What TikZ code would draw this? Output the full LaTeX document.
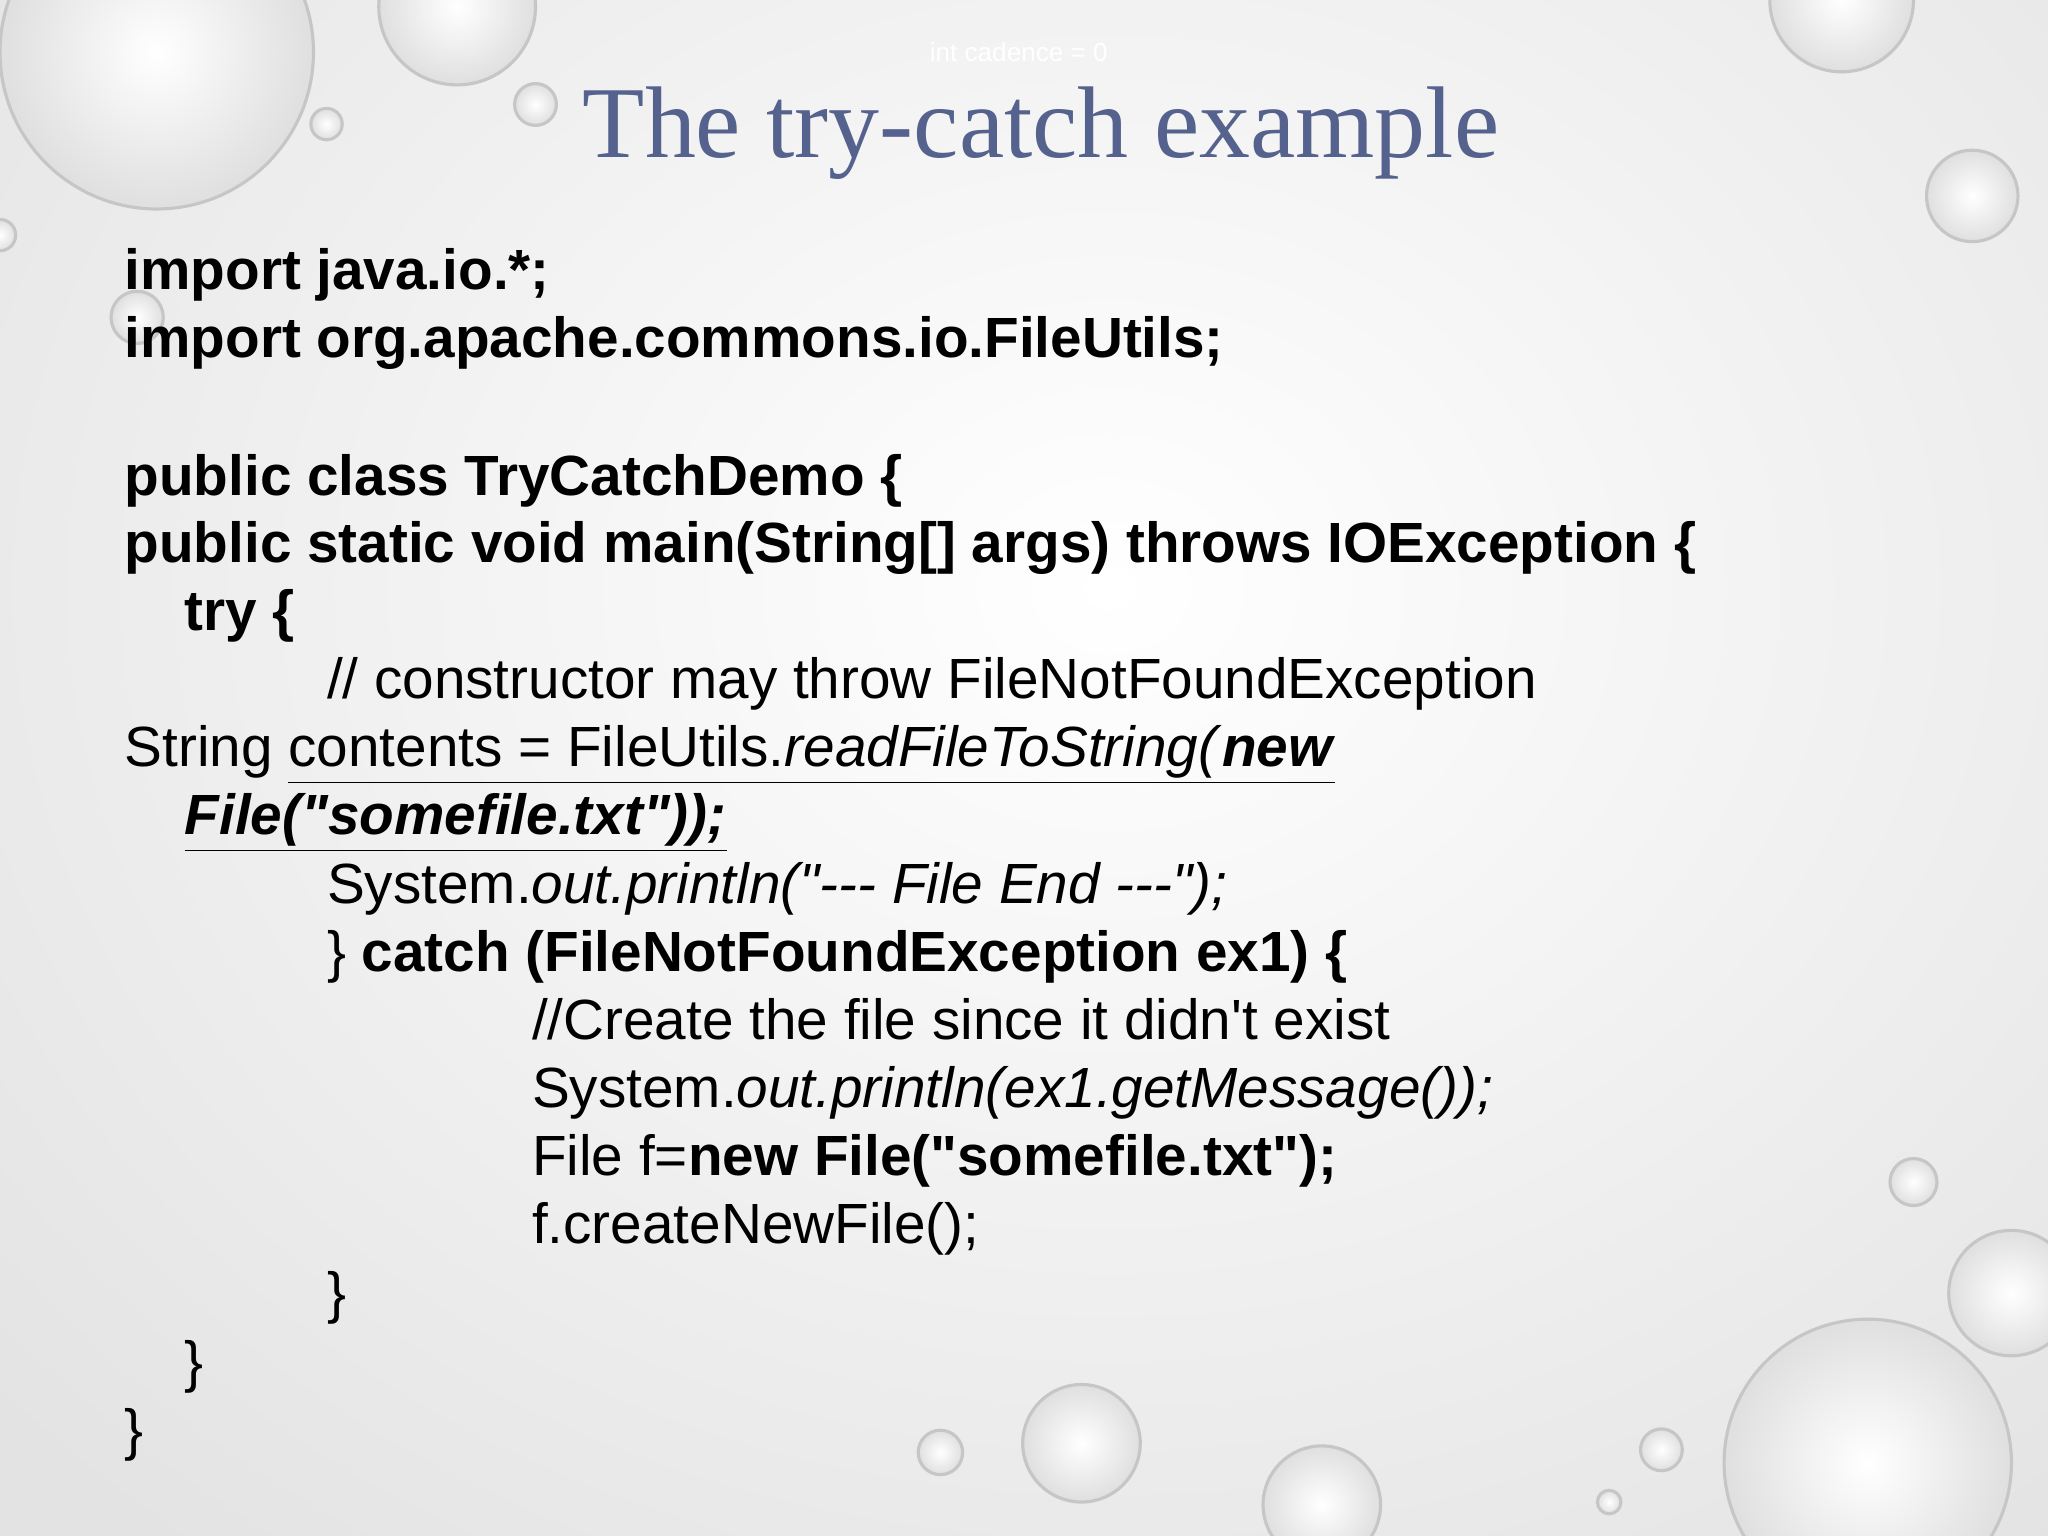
\documentclass[tikz,border=0pt]{standalone}
\usepackage{fontspec}
\setmainfont{Liberation Sans}[Ligatures=TeXOff]
\newfontfamily\titlefont{Liberation Serif}
\definecolor{titleblue}{HTML}{56628E}
\begin{document}
\begin{tikzpicture}[x=0.5pt,y=-0.5pt,
  code/.style={anchor=base west,inner sep=0pt,font=\fontsize{21.7}{26}\selectfont},
  drop/.style={draw=gray!45,line width=1.2pt,inner color=white,outer color=gray!25}]
\useasboundingbox (0,0) rectangle (1568,1176);
\begin{scope}
\clip (0,0) rectangle (1568,1176);
\shade[inner color=white,outer color=gray!22] (-300,-500) rectangle (2000,1400);
\shade[drop] (120,40) circle (120);
\shade[drop] (250,95) circle (12);
\shade[drop] (410,80) circle (16);
\shade[drop] (350,5) circle (60);
\shade[drop] (1510,150) circle (35);
\shade[drop] (1410,0) circle (55);
\shade[drop] (1465,905) circle (18);
\shade[drop] (1540,990) circle (48);
\shade[drop] (828,1105) circle (45);
\shade[drop] (720,1112) circle (17);
\shade[drop] (1272,1110) circle (16);
\shade[drop] (1232,1150) circle (9);
\shade[drop] (1012,1152) circle (45);
\shade[drop] (1430,1120) circle (110);
\shade[drop] (105,243) circle (20);
\shade[drop] (0,180) circle (12);
\end{scope}
\node[white,font=\fontsize{10}{12}\selectfont] (hid) at (780,40) {int cadence = 0};
\node[titleblue,font=\titlefont\fontsize{39}{48}\selectfont] (title) at (797,102) {The try-catch example};
\node[code] (l1) at (95,222) {\textbf{import java.io.*;}};
\node[code] (l2) at (95,274) {\textbf{import org.apache.commons.io.FileUtils;}};
\node[code] (l3) at (95,379) {\textbf{public class TryCatchDemo \{}};
\node[code] (l4) at (95,431) {\textbf{public static void main(String[] args) throws IOException \{}};
\node[code] (l5) at (141,483) {\textbf{try \{}};
\node[code] (l6) at (250,535) {// constructor may throw FileNotFoundException};
\node[code] (l7) at (95,587) {String \underline{contents = FileUtils.\textit{readFileToString(}\textbf{\textit{new}}}};
\node[code] (l8) at (141,639) {\underline{\textbf{\textit{File("somefile.txt"));}}}};
\node[code] (l9) at (250,692) {System.\textit{out.println("--- File End ---");}};
\node[code] (l10) at (250,744) {\} \textbf{catch (FileNotFoundException ex1) \{}};
\node[code] (l11) at (407,796) {//Create the file since it didn't exist};
\node[code] (l12) at (407,848) {System.\textit{out.println(ex1.getMessage());}};
\node[code] (l13) at (407,900) {File f=\textbf{new File("somefile.txt");}};
\node[code] (l14) at (407,952) {f.createNewFile();};
\node[code] (l15) at (250,1005) {\}};
\node[code] (l16) at (141,1058) {\}};
\node[code] (l17) at (95,1110) {\}};
\end{tikzpicture}
\end{document}
